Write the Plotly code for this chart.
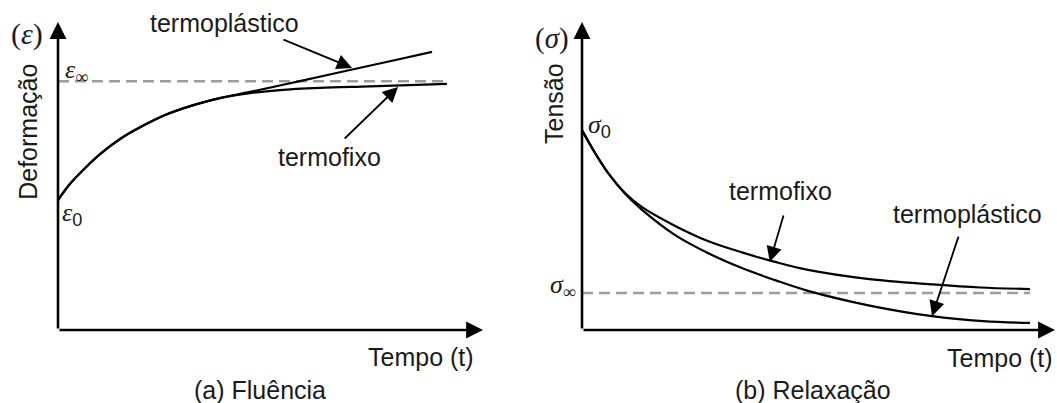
import plotly.graph_objects as go

# ---------------- data (arbitrary units read from the schematic) ----------------
# (a) Fluência  -- time t and strain ε
t_fixo_a = [0, 0.28, 0.64, 0.99, 1.46, 1.93, 2.52, 3.11, 3.81, 4.52, 5.22, 6.16, 7.34, 9.15]
eps_fixo = [4.22, 4.74, 5.26, 5.71, 6.20, 6.58, 6.98, 7.27, 7.53, 7.69, 7.79, 7.86, 7.91, 7.99]
t_plast_a = [0, 0.28, 0.64, 0.99, 1.46, 1.93, 2.52, 3.11, 3.81, 4.52, 5.69, 6.87, 8.05, 8.80]
eps_plast = [4.22, 4.74, 5.26, 5.71, 6.20, 6.58, 6.98, 7.27, 7.53, 7.73, 8.08, 8.44, 8.80, 9.03]
eps_inf = 8.08
t_dash_a = [0, 9.10]

# (b) Relaxação  -- time t and stress σ
t_fixo_b = [0, 0.275, 0.55, 0.91, 1.27, 1.97, 2.66, 3.38, 4.08, 4.78, 6.03, 7.42, 8.41, 9.47]
sig_fixo = [6.49, 5.75, 5.10, 4.45, 3.99, 3.38, 2.89, 2.52, 2.21, 1.95, 1.66, 1.48, 1.38, 1.33]
t_plast_b = [0, 0.275, 0.55, 0.91, 1.27, 1.97, 2.66, 3.38, 4.08, 4.78, 6.03, 7.40, 8.48, 9.47]
sig_plast = [6.49, 5.75, 5.10, 4.42, 3.90, 3.08, 2.50, 2.01, 1.62, 1.27, 0.81, 0.45, 0.29, 0.23]
sig_inf = 1.20
t_dash_b = [0, 9.47]

TXT = "#1a1a1a"
SANS = "Liberation Sans, Arial, sans-serif"
SERIF = "Liberation Serif, Times New Roman, serif"
FS = 25

fig = go.Figure()
curve = dict(color="black", width=2.2)
dash = dict(color="#9c9c9c", width=2.5, dash="11px,6px")

fig.add_trace(go.Scatter(x=t_dash_a, y=[eps_inf, eps_inf], mode="lines", line=dash, xaxis="x", yaxis="y"))
fig.add_trace(go.Scatter(x=t_plast_a, y=eps_plast, mode="lines", line=curve, line_shape="spline", xaxis="x", yaxis="y"))
fig.add_trace(go.Scatter(x=t_fixo_a, y=eps_fixo, mode="lines", line=curve, line_shape="spline", xaxis="x", yaxis="y"))

fig.add_trace(go.Scatter(x=t_dash_b, y=[sig_inf, sig_inf], mode="lines", line=dash, xaxis="x2", yaxis="y2"))
fig.add_trace(go.Scatter(x=t_fixo_b, y=sig_fixo, mode="lines", line=curve, line_shape="spline", xaxis="x2", yaxis="y2"))
fig.add_trace(go.Scatter(x=t_plast_b, y=sig_plast, mode="lines", line=curve, line_shape="spline", xaxis="x2", yaxis="y2"))

W, H = 1057, 403
hid = dict(visible=False, fixedrange=True)
fig.update_layout(
    width=W, height=H, margin=dict(l=0, r=0, t=0, b=0),
    paper_bgcolor="white", plot_bgcolor="rgba(0,0,0,0)", showlegend=False,
    xaxis=dict(domain=[0, 500 / W], range=[-58 / 42.5, 442 / 42.5], anchor="y", **hid),
    yaxis=dict(domain=[0, 1], range=[-73 / 30.8, 330 / 30.8], anchor="x", **hid),
    xaxis2=dict(domain=[515 / W, 1], range=[(515 - 582) / 47.3, (1057 - 582) / 47.3], anchor="y2", **hid),
    yaxis2=dict(domain=[0, 1], range=[-73 / 30.8, 330 / 30.8], anchor="x2", **hid),
)

ann = []


def arrow(xr, yr, x0, y0, x1, y1, width, size):
    ann.append(dict(xref=xr, yref=yr, axref=xr, ayref=yr, x=x1, y=y1, ax=x0, ay=y0,
                    text="", showarrow=True, arrowhead=2, arrowsize=size,
                    arrowwidth=width, arrowcolor="black", standoff=0, startstandoff=0))


def label(xr, yr, x, y, text, size=FS, family=SANS, angle=0):
    ann.append(dict(xref=xr, yref=yr, x=x, y=y, text=text, showarrow=False,
                    font=dict(family=family, size=size, color=TXT), textangle=angle,
                    xanchor="center", yanchor="middle"))


# axes arrows
for xr, yr in (("x", "y"), ("x2", "y2")):
    arrow(xr, yr, 0, 0, 10, 0, 2.6, 1.3)
    arrow(xr, yr, 0, 0, 0, 10, 2.6, 1.3)

# pointer arrows
arrow("x", "y", 5.27, 9.45, 6.92, 8.51, 1.8, 1.7)
arrow("x", "y", 6.71, 6.17, 8.00, 7.89, 1.8, 1.7)
arrow("x2", "y2", 4.27, 3.77, 3.97, 2.21, 1.8, 1.7)
arrow("x2", "y2", 7.97, 3.08, 7.40, 0.45, 1.8, 1.7)

# panel (a) text
label("x", "y", 3.91, 9.97, "termoplástico")
label("x", "y", 6.38, 5.62, "termofixo")
label("x", "y", -0.72, 9.60, "(<i>ε</i>)", size=30, family=SERIF)
label("x", "y", -0.71, 6.43, "Deformação", angle=-90)
label("x", "y", 0.44, 8.40, "<i>ε</i><sub>∞</sub>", size=26, family=SERIF)
label("x", "y", 0.33, 3.78, "<i>ε</i><sub><span style='font-family:Liberation Sans'>0</span></sub>", size=26, family=SERIF)
label("x", "y", 8.54, -0.88, "Tempo (t)")
label("x", "y", 4.75, -1.95, "(a) Fluência")

# panel (b) text
label("x2", "y2", -0.63, 9.48, "(<i>σ</i>)", size=29, family=SERIF)
label("x2", "y2", -0.59, 7.34, "Tensão", angle=-90)
label("x2", "y2", 0.38, 6.62, "<i>σ</i><sub><span style='font-family:Liberation Sans'>0</span></sub>", size=26, family=SERIF)
label("x2", "y2", -0.40, 1.43, "<i>σ</i><sub>∞</sub>", size=26, family=SERIF)
label("x2", "y2", 4.19, 4.51, "termofixo")
label("x2", "y2", 8.14, 3.77, "termoplástico")
label("x2", "y2", 8.84, -0.91, "Tempo (t)")
label("x2", "y2", 4.88, -1.95, "(b) Relaxação")

fig.update_layout(annotations=ann)
fig.write_html("out.html")
